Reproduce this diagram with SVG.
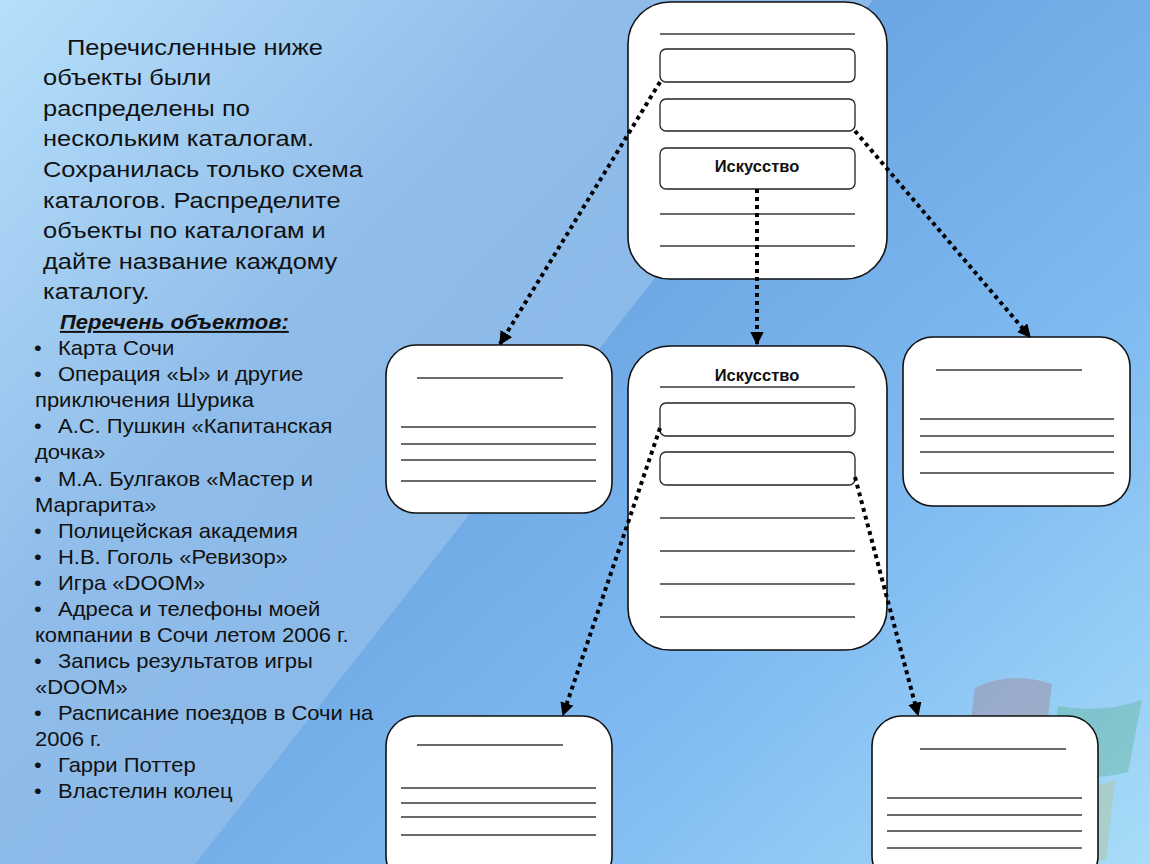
<svg xmlns="http://www.w3.org/2000/svg" width="1150" height="864" viewBox="0 0 1150 864">
<defs>
<linearGradient id="bgL" x1="0" y1="0" x2="1" y2="0.7">
<stop offset="0" stop-color="#b6dffb"/>
<stop offset="0.35" stop-color="#8fbce9"/>
<stop offset="1" stop-color="#86b6e8"/>
</linearGradient>
<linearGradient id="bgR" gradientUnits="userSpaceOnUse" x1="600" y1="250" x2="1150" y2="864">
<stop offset="0" stop-color="#6ba6e3"/>
<stop offset="0.5" stop-color="#80bbf2"/>
<stop offset="1" stop-color="#a8dcf8"/>
</linearGradient>
<marker id="ah" viewBox="0 0 10 10" refX="9" refY="5" markerWidth="3.4" markerHeight="3.4" orient="auto" markerUnits="strokeWidth">
<path d="M0,0 L10,5 L0,10 Z" fill="#000"/>
</marker>
<style>
.box{fill:#fff;stroke:#111;stroke-width:1.6}
.slot{fill:#fff;stroke:#222;stroke-width:1.3}
.ln{stroke:#3a3a3a;stroke-width:1.5}
.con{fill:none;stroke:#000;stroke-width:4;stroke-dasharray:4 4}
.t{font-family:"Liberation Sans",Arial,sans-serif;fill:#111}
.p{font-size:22.5px}
.li{font-size:20px}
.lbl{font-family:"Liberation Sans",Arial,sans-serif;font-size:16.5px;font-weight:bold;fill:#111;text-anchor:middle}
</style>
</defs>
<rect width="1150" height="864" fill="url(#bgL)"/>
<polygon points="195,864 873,0 1150,0 1150,864" fill="url(#bgR)"/>
<g id="logo" opacity="0.25">
<path d="M975,688 Q1010,670 1052,684 L1045,742 Q1010,730 968,744 Z" fill="#b05050"/>
<path d="M1058,706 Q1100,714 1142,700 L1128,772 Q1090,782 1050,772 Z" fill="#38a058"/>
<path d="M1048,786 Q1085,792 1115,780 L1106,860 Q1080,864 1040,858 Z" fill="#c0b848"/>
</g>
<g id="instructions" class="t p" transform="matrix(1.13 0 0 1 -5.59 0)">
<text x="64.2" y="55">Перечисленные ниже</text>
<text x="43" y="85">объекты были</text>
<text x="43" y="116">распределены по</text>
<text x="43" y="146">нескольким каталогам.</text>
<text x="43" y="177">Сохранилась только схема</text>
<text x="43" y="208">каталогов. Распределите</text>
<text x="43" y="238">объекты по каталогам и</text>
<text x="43" y="269">дайте название каждому</text>
<text x="43" y="299">каталогу.</text>
</g>
<g id="list" class="t li" transform="matrix(1.1 0 0 1 -3.3 0)" xml:space="preserve">
<text x="57.5" y="329" font-weight="bold" font-style="italic" text-decoration="underline">Перечень  объектов:</text>
<text x="34" y="355">•</text><text x="55.7" y="355">Карта Сочи</text>
<text x="34" y="381">•</text><text x="55.7" y="381">Операция «Ы» и другие</text>
<text x="34.8" y="407">приключения  Шурика</text>
<text x="34" y="433">•</text><text x="55.7" y="433">А.С. Пушкин «Капитанская</text>
<text x="34.8" y="459">дочка»</text>
<text x="34" y="486">•</text><text x="55.7" y="486">М.А. Булгаков «Мастер и</text>
<text x="34.8" y="512">Маргарита»</text>
<text x="34" y="538">•</text><text x="55.7" y="538">Полицейская академия</text>
<text x="34" y="564">•</text><text x="55.7" y="564">Н.В. Гоголь «Ревизор»</text>
<text x="34" y="590">•</text><text x="55.7" y="590">Игра «DOOM»</text>
<text x="34" y="616">•</text><text x="55.7" y="616">Адреса и телефоны моей</text>
<text x="34.8" y="642">компании  в Сочи летом 2006 г.</text>
<text x="34" y="668">•</text><text x="55.7" y="668">Запись результатов игры</text>
<text x="34.8" y="694">«DOOM»</text>
<text x="34" y="720">•</text><text x="55.7" y="720">Расписание  поездов в Сочи на</text>
<text x="34.8" y="746">2006 г.</text>
<text x="34" y="772">•</text><text x="55.7" y="772">Гарри Поттер</text>
<text x="34" y="798">•</text><text x="55.7" y="798">Властелин колец</text>
</g>
<g id="root">
<rect class="box" x="628" y="2" width="259" height="277" rx="42"/>
<line class="ln" x1="660" y1="34" x2="855" y2="34"/>
<rect class="slot" x="660" y="49" width="195" height="33" rx="6"/>
<rect class="slot" x="660" y="99" width="195" height="32" rx="6"/>
<rect class="slot" x="660" y="148" width="195" height="41" rx="6"/>
<text class="lbl" x="757" y="172">Искусство</text>
<line class="ln" x1="660" y1="214" x2="855" y2="214"/>
<line class="ln" x1="660" y1="246" x2="855" y2="246"/>
</g>
<g id="art">
<rect class="box" x="628" y="346" width="259" height="304" rx="42"/>
<text class="lbl" x="757" y="381">Искусство</text>
<line class="ln" x1="660" y1="387" x2="855" y2="387"/>
<rect class="slot" x="660" y="403" width="195" height="33" rx="6"/>
<rect class="slot" x="660" y="452" width="195" height="33" rx="6"/>
<line class="ln" x1="660" y1="518" x2="855" y2="518"/>
<line class="ln" x1="660" y1="551" x2="855" y2="551"/>
<line class="ln" x1="660" y1="584" x2="855" y2="584"/>
<line class="ln" x1="660" y1="617" x2="855" y2="617"/>
</g>
<g id="left">
<rect class="box" x="386" y="345" width="226" height="168" rx="30"/>
<line class="ln" x1="417" y1="378" x2="563" y2="378"/>
<line class="ln" x1="401" y1="427" x2="596" y2="427"/>
<line class="ln" x1="401" y1="444" x2="596" y2="444"/>
<line class="ln" x1="401" y1="460" x2="596" y2="460"/>
<line class="ln" x1="401" y1="481" x2="596" y2="481"/>
</g>
<g id="right">
<rect class="box" x="903" y="337" width="227" height="169" rx="30"/>
<line class="ln" x1="936" y1="370" x2="1082" y2="370"/>
<line class="ln" x1="920" y1="419" x2="1114" y2="419"/>
<line class="ln" x1="920" y1="436" x2="1114" y2="436"/>
<line class="ln" x1="920" y1="452" x2="1114" y2="452"/>
<line class="ln" x1="920" y1="473" x2="1114" y2="473"/>
</g>
<g id="bottomLeft">
<rect class="box" x="386" y="716" width="226" height="170" rx="30"/>
<line class="ln" x1="417" y1="745" x2="563" y2="745"/>
<line class="ln" x1="401" y1="788" x2="596" y2="788"/>
<line class="ln" x1="401" y1="803" x2="596" y2="803"/>
<line class="ln" x1="401" y1="817" x2="596" y2="817"/>
<line class="ln" x1="401" y1="835" x2="596" y2="835"/>
</g>
<g id="bottomRight">
<rect class="box" x="872" y="716" width="226" height="170" rx="30"/>
<line class="ln" x1="920" y1="749" x2="1066" y2="749"/>
<line class="ln" x1="887" y1="798" x2="1082" y2="798"/>
<line class="ln" x1="887" y1="815" x2="1082" y2="815"/>
<line class="ln" x1="887" y1="831" x2="1082" y2="831"/>
<line class="ln" x1="887" y1="848" x2="1082" y2="848"/>
</g>
<g id="connectors">
<line class="con" x1="660" y1="82" x2="500" y2="344" marker-end="url(#ah)"/>
<line class="con" x1="757" y1="189" x2="757" y2="344" marker-end="url(#ah)"/>
<line class="con" x1="855" y1="131" x2="1030" y2="337" marker-end="url(#ah)"/>
<line class="con" x1="660" y1="428" x2="563" y2="715" marker-end="url(#ah)"/>
<line class="con" x1="855" y1="477" x2="918" y2="715" marker-end="url(#ah)"/>
</g>
</svg>
